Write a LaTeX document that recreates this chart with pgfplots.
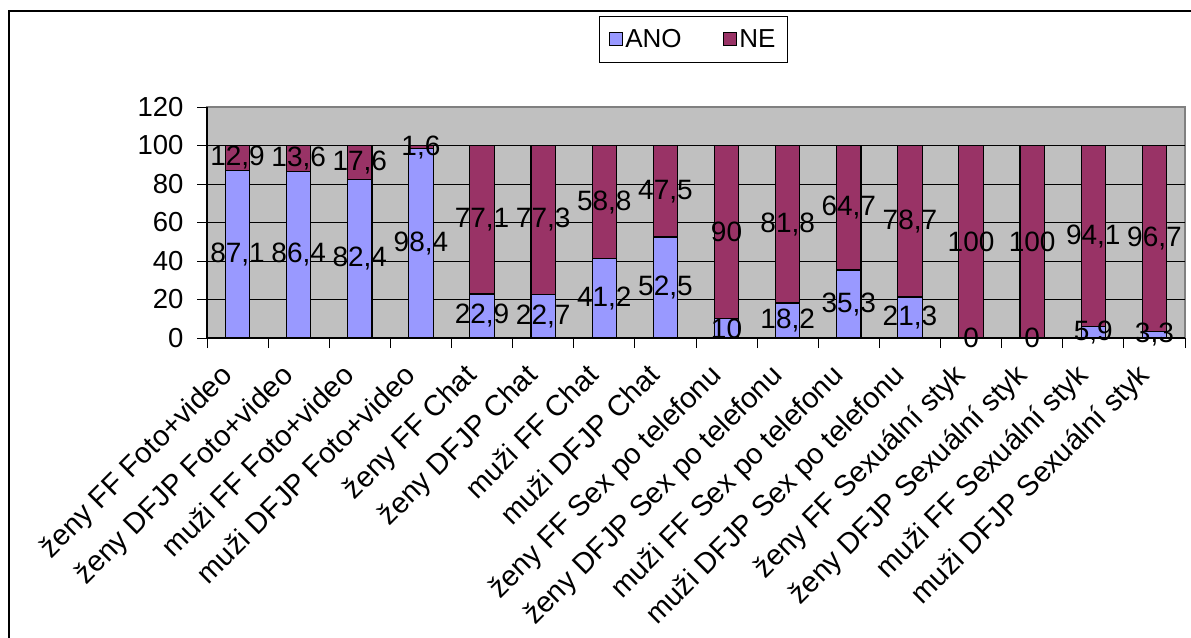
\documentclass[border=0pt]{standalone}
\usepackage{fontspec}
\setmainfont{Liberation Sans}
\usepackage{pgfplots}
\pgfplotsset{compat=1.18}
\usepackage{pgfplotstable}
\definecolor{ano}{HTML}{9999FF}
\definecolor{ne}{HTML}{993366}
\definecolor{bg}{HTML}{C0C0C0}
\definecolor{bord}{HTML}{808080}
\pgfplotstableread{
x ano ne
0 87.1 12.9
1 86.4 13.6
2 82.4 17.6
3 98.4 1.6
4 22.9 77.1
5 22.7 77.3
6 41.2 58.8
7 52.5 47.5
8 10 90
9 18.2 81.8
10 35.3 64.7
11 21.3 78.7
12 0 100
13 0 100
14 5.9 94.1
15 3.3 96.7
}\data
\begin{document}
\begin{tikzpicture}
\useasboundingbox (0,0) rectangle (1191pt,-637pt);
\draw[line width=2pt] (9pt,-1000pt) -- (9pt,-11pt) -- (1300pt,-11pt);
\begin{axis}[
  at={(207pt,-338pt)}, anchor=south west,
  scale only axis, width=978pt, height=231pt,
  ybar stacked, bar width=24.4pt,
  xmin=-0.5, xmax=15.5, ymin=0, ymax=120,
  ytick={0,20,...,100},
  extra y ticks={120}, extra y tick style={grid=none},
  xtick={0,...,15},
  xticklabels={ženy FF Foto+video, ženy DFJP Foto+video, muži FF Foto+video, muži DFJP Foto+video, ženy FF Chat, ženy DFJP Chat, muži FF Chat, muži DFJP Chat, ženy FF Sex po telefonu, ženy DFJP Sex po telefonu, muži FF Sex po telefonu, muži DFJP Sex po telefonu, ženy FF Sexuální styk, ženy DFJP Sexuální styk, muži FF Sexuální styk, muži DFJP Sexuální styk},
  minor xtick={-0.5,0.5,...,15.5},
  major x tick style={draw=none},
  minor tick length=10pt, major tick length=10pt,
  tick align=outside,
  tick style={black, line width=0.8pt},
  axis lines*=left,
  axis line style={black, line width=1.2pt},
  axis background/.style={fill=bg, draw=bord, line width=1.2pt},
  ymajorgrids, grid style={black, line width=0.8pt},
  /pgf/number format/assume math mode=true,
  yticklabel style={anchor=east, xshift=-10pt, font=\fontsize{27.5}{32}\selectfont},
  xticklabel style={yshift=-14pt, xshift=-19pt, rotate=45, anchor=north east, inner sep=0pt, font=\fontsize{29}{33}\selectfont},
  legend style={at={(0.4975,1.294)}, anchor=center, legend columns=2, draw=black, line width=0.8pt,
    font=\fontsize{26}{30}\selectfont, inner xsep=9pt, inner ysep=11pt,
    /tikz/every even column/.append style={column sep=38pt},
    nodes={inner xsep=3pt}},
  legend image code/.code={\draw[#1, line width=0.8pt] (0pt,-6.5pt) rectangle (13pt,6.5pt);},
]
\addplot[fill=ano, draw=black, line width=1.2pt] table[x=x, y=ano]{\data};
\addlegendentry{ANO}
\addplot[fill=ne, draw=black, line width=1.2pt] table[x=x, y=ne]{\data};
\addlegendentry{NE}
\end{axis}
\begin{axis}[
  at={(207pt,-338pt)}, anchor=south west,
  scale only axis, width=978pt, height=231pt,
  xmin=-0.5, xmax=15.5, ymin=0, ymax=120,
  axis lines=none, clip=false,
  /pgf/number format/.cd, use comma, fixed, precision=1, assume math mode=true,
]
\addplot[draw=none, mark=none, nodes near coords, point meta=explicit,
  every node near coord/.append style={anchor=center, font=\fontsize{28}{32}\selectfont, text=black}]
  table[x=x, y expr=\thisrow{ano}/2, meta=ano]{\data};
\addplot[draw=none, mark=none, nodes near coords, point meta=explicit,
  every node near coord/.append style={anchor=center, font=\fontsize{28}{32}\selectfont, text=black}]
  table[x=x, y expr=\thisrow{ano}+\thisrow{ne}/2, meta=ne]{\data};
\end{axis}
\end{tikzpicture}
\end{document}
